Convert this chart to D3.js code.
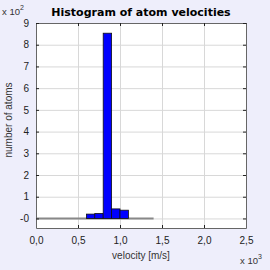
<!DOCTYPE html>
<html lang="en">
<head>
	<meta charset="UTF-8">
	<title>Histogram of atom velocities</title>
	<script src="https://cdn.jsdelivr.net/npm/d3@7"></script>
	<style>
		html, body{
			margin: 0;
			padding: 0;
			background: #eeeefb;
		}
		svg{
			display: block;
			font-family: "Liberation Sans", Arial, sans-serif;
		}
	</style>
</head>
<body>
	<div class="chart"></div>
	<script>
		// bin edges (m/s) and counts
		var binStart = [500, 600, 700, 800, 900, 1000, 1100, 1200];
		var binEnd   = [600, 700, 800, 900, 1000, 1100, 1200, 1300];
		var counts   = [0, 20, 23, 853, 44, 38, 0, 0];

		var xTicks = [0, 500, 1000, 1500, 2000, 2500];
		var xTickLabels = ['0,0', '0,5', '1,0', '1,5', '2,0', '2,5'];
		var yTicks = [0, 100, 200, 300, 400, 500, 600, 700, 800, 900];
		var yTickLabels = ['-0', '1', '2', '3', '4', '5', '6', '7', '8', '9'];

		var width = 270;
		var height = 270;
		var padding = { top: 23, right: 24, bottom: 42, left: 36 };
		var innerW = width - padding.left - padding.right;
		var innerH = height - padding.top - padding.bottom;

		var xScale = d3.scaleLinear()
						.domain([0, 2500])
						.range([0, innerW]);
		var yScale = d3.scaleLinear()
						.domain([-44, 900])
						.range([innerH, 0]);

		var svg = d3.select('.chart')
					.append('svg')
					.attr('width', width)
					.attr('height', height);

		svg.append('rect')
			.attr('width', width)
			.attr('height', height)
			.attr('fill', '#eeeefb');

		var g = svg.append('g')
					.attr('transform', 'translate(' + padding.left + ',' + padding.top + ')');

		g.append('rect')
			.attr('width', innerW)
			.attr('height', innerH)
			.attr('fill', '#fff');

		// grid
		g.append('g')
			.attr('class', 'grid')
			.call(d3.axisBottom(xScale).tickValues(xTicks).tickSize(innerH).tickFormat(''))
			.call(function(s){
				s.select('.domain').remove();
				s.selectAll('line').attr('stroke', '#d8d8d8');
			});
		g.append('g')
			.attr('class', 'grid')
			.call(d3.axisLeft(yScale).tickValues(yTicks).tickSize(-innerW).tickFormat(''))
			.call(function(s){
				s.select('.domain').remove();
				s.selectAll('line').attr('stroke', '#d8d8d8');
			});

		// zero baseline
		g.append('line')
			.attr('x1', xScale(0))
			.attr('x2', xScale(1400))
			.attr('y1', yScale(0))
			.attr('y2', yScale(0))
			.attr('stroke', '#888')
			.attr('stroke-width', 2);

		// bars
		g.append('g')
			.selectAll('rect')
			.data(counts)
			.enter()
			.append('rect')
			.attr('x', function(d, i){ return xScale(binStart[i]); })
			.attr('width', function(d, i){ return xScale(binEnd[i]) - xScale(binStart[i]); })
			.attr('y', function(d){ return yScale(d); })
			.attr('height', function(d){ return yScale(0) - yScale(d); })
			.attr('fill', '#0000ff')
			.attr('stroke', '#111')
			.attr('stroke-width', 0.8);

		// axes with inward ticks
		var tickStyle = function(s){
			s.select('.domain').attr('stroke', '#666');
			s.selectAll('line').attr('stroke', '#222');
			s.selectAll('text').attr('fill', '#222').style('font-size', '10px');
		};
		g.append('g')
			.attr('transform', 'translate(0,' + innerH + ')')
			.call(d3.axisBottom(xScale).tickValues(xTicks).tickSize(-3).tickSizeOuter(0)
				.tickPadding(9).tickFormat(function(d, i){ return xTickLabels[i]; }))
			.call(tickStyle);
		g.append('g')
			.call(d3.axisTop(xScale).tickValues(xTicks).tickSize(-3).tickSizeOuter(0).tickFormat(''))
			.call(tickStyle);
		g.append('g')
			.call(d3.axisLeft(yScale).tickValues(yTicks).tickSize(-3).tickSizeOuter(0)
				.tickPadding(7).tickFormat(function(d, i){ return yTickLabels[i]; }))
			.call(tickStyle);
		g.append('g')
			.attr('transform', 'translate(' + innerW + ',0)')
			.call(d3.axisRight(yScale).tickValues(yTicks).tickSize(-3).tickSizeOuter(0).tickFormat(''))
			.call(tickStyle);

		// title and labels
		svg.append('text')
			.attr('x', 141)
			.attr('y', 16)
			.attr('text-anchor', 'middle')
			.style('font-family', '"DejaVu Sans", Verdana, sans-serif')
			.style('font-size', '11px')
			.style('font-weight', 'bold')
			.attr('fill', '#000')
			.text('Histogram of atom velocities');

		svg.append('text')
			.attr('x', padding.left + innerW / 2)
			.attr('y', 259)
			.attr('text-anchor', 'middle')
			.style('font-size', '10px')
			.attr('fill', '#333')
			.text('velocity [m/s]');

		svg.append('text')
			.attr('transform', 'translate(12,' + 120 + ') rotate(-90)')
			.attr('text-anchor', 'middle')
			.style('font-size', '10px')
			.attr('fill', '#333')
			.text('number of atoms');

		var mult = function(x, y, exp){
			var t = svg.append('text')
						.attr('x', x)
						.attr('y', y)
						.style('font-size', '9.5px')
						.attr('fill', '#333');
			t.append('tspan').text('x 10');
			t.append('tspan').attr('dy', -5).style('font-size', '7px').text(exp);
		};
		mult(2, 15, '2');
		mult(240, 264, '3');
	</script>
</body>
</html>
